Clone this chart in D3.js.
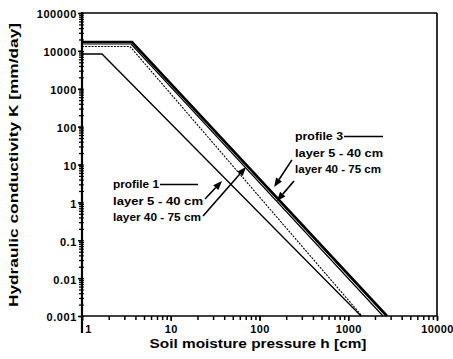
<!DOCTYPE html>
<html><head><meta charset="utf-8">
<script src="https://cdn.jsdelivr.net/npm/d3@7"></script>
<style>body{margin:0;background:#fff}svg{display:block}</style>
</head><body><svg id="c" width="453" height="359"></svg>
<script>
// ---- data ----
const yMajorTicks = [100000, 10000, 1000, 100, 10, 1, 0.1, 0.01, 0.001];
const yTickLabels = ["100000", "10000", "1000", "100", "10", "1", "0.1", "0.01", "0.001"];
const xMajorTicks = [1, 10, 100, 1000, 10000];
const xTickLabels = ["1", "10", "100", "1000", "10000"];
// curves: [h (cm), K (mm/day)]
const profile3Layer1 = [[1, 17100], [3.66, 17100], [2730, 0.001]];
const profile3Layer2 = [[1, 15200], [3.57, 15200], [2465, 0.001]];
const profile1Layer2 = [[1, 13060], [3.47, 13060], [1430, 0.001]];
const profile1Layer1 = [[1, 8260], [1.68, 8260], [1393, 0.001]];
// annotation arrows [tail, tip] in data units
const arrowP1a = [[24.3, 1.23], [37.8, 3.66]];
const arrowP1b = [[23.1, 0.436], [70.5, 8.6]];
const arrowP3a = [[232, 13.2], [146, 2.55]];
const arrowP3b = [[245, 3.66], [157, 1.09]];
const legend1 = ["profile 1", "layer  5 - 40 cm", "layer 40 - 75 cm"];
const legend3 = ["profile 3", "layer  5 - 40 cm", "layer 40 - 75 cm"];

const svg = d3.select("#c");
const L = 82, R = 437, T = 13, B = 316;
const x = d3.scaleLog().domain([1, 10000]).range([L, R]);
const y = d3.scaleLog().domain([0.001, 100000]).range([B, T]);
const font = "'Liberation Sans', Arial, Helvetica, sans-serif";

// frame
svg.append("line").attr("x1", L).attr("x2", R).attr("y1", T).attr("y2", T).attr("stroke", "#000").attr("stroke-width", 1.6);
svg.append("line").attr("x1", R).attr("x2", R).attr("y1", T).attr("y2", B).attr("stroke", "#000").attr("stroke-width", 1.6);
svg.append("line").attr("x1", L).attr("x2", R).attr("y1", B).attr("y2", B).attr("stroke", "#000").attr("stroke-width", 1.6);
svg.append("line").attr("x1", L).attr("x2", L).attr("y1", T - 1).attr("y2", 333).attr("stroke", "#000").attr("stroke-width", 2.2);

// y axis ticks
const yAll = y.ticks();
const gy = svg.append("g").attr("transform", `translate(${L},0)`)
  .call(d3.axisLeft(y).tickValues(yAll).tickSize(3).tickFormat(""));
gy.select(".domain").remove();
gy.selectAll("line").attr("stroke-width", 1.3);
const gy2 = svg.append("g").attr("transform", `translate(${L},0)`)
  .call(d3.axisRight(y).tickValues(yAll).tickSize(2).tickFormat(""));
gy2.select(".domain").remove();
const gyl = svg.append("g").attr("transform", `translate(${L},0)`)
  .call(d3.axisLeft(y).tickValues(yMajorTicks).tickSize(4).tickPadding(1)
    .tickFormat((d, i) => yTickLabels[i]));
gyl.select(".domain").remove();
gyl.selectAll("line").attr("stroke-width", 1.5);
gyl.selectAll("text").attr("font-family", font).attr("font-weight", "bold")
  .attr("font-size", 11).attr("letter-spacing", "0.6px").attr("dy", "0.45em");

// x axis ticks
const xAll = x.ticks();
const gx = svg.append("g").attr("transform", `translate(0,${B})`)
  .call(d3.axisBottom(x).tickValues(xAll).tickSize(4).tickFormat(""));
gx.select(".domain").remove();
gx.selectAll("line").attr("stroke-width", 1.5);
const gxl = svg.append("g").attr("transform", `translate(0,${B})`)
  .call(d3.axisBottom(x).tickValues(xMajorTicks).tickSize(5).tickPadding(4)
    .tickFormat((d, i) => xTickLabels[i]));
gxl.select(".domain").remove();
gxl.selectAll("line").attr("stroke-width", 1.5);
gxl.selectAll("text").attr("font-family", font).attr("font-weight", "bold")
  .attr("font-size", 11).attr("letter-spacing", "0.4px");
gxl.selectAll(".tick").filter((d) => d === 1).select("text").attr("dx", 6);

// curves
const line = d3.line().x(d => x(d[0])).y(d => y(d[1]));
const curves = [
  { data: profile1Layer1, w: 1.3, dash: null },
  { data: profile1Layer2, w: 1.1, dash: "2,1.2" },
  { data: profile3Layer2, w: 1.2, dash: null },
  { data: profile3Layer1, w: 2.6, dash: null }
];
svg.append("g").selectAll("path").data(curves).join("path")
  .attr("d", d => line(d.data)).attr("fill", "none").attr("stroke", "#000")
  .attr("stroke-width", d => d.w).attr("stroke-dasharray", d => d.dash)
  .attr("stroke-linejoin", "miter");

// arrows
function arrow(a) {
  const x1 = x(a[0][0]), y1 = y(a[0][1]), x2 = x(a[1][0]), y2 = y(a[1][1]);
  const ang = Math.atan2(y2 - y1, x2 - x1);
  const hl = 9, hw = 3.5;
  const bx = x2 - hl * Math.cos(ang), by = y2 - hl * Math.sin(ang);
  svg.append("line").attr("x1", x1).attr("y1", y1).attr("x2", bx).attr("y2", by)
    .attr("stroke", "#000").attr("stroke-width", 1.6);
  const px = -Math.sin(ang) * hw, py = Math.cos(ang) * hw;
  svg.append("path").attr("d", `M${x2},${y2}L${bx + px},${by + py}L${bx - px},${by - py}Z`).attr("fill", "#000");
}
[arrowP1a, arrowP1b, arrowP3a, arrowP3b].forEach(arrow);

// legends
function legend(lines, x0, y0, widths, lineEnd) {
  lines.forEach((t, i) => {
    svg.append("text").attr("x", x0).attr("y", y0 + i * 16.5).attr("font-family", font)
      .attr("font-weight", "bold").attr("font-size", 10.5).attr("textLength", widths[i])
      .attr("lengthAdjust", "spacingAndGlyphs").text(t);
  });
  svg.append("line").attr("x1", x0 + widths[0] + 1).attr("x2", lineEnd)
    .attr("y1", y0 - 3.5).attr("y2", y0 - 3.5).attr("stroke", "#000").attr("stroke-width", 1.3);
}
legend(legend1, 113, 188, [46, 90, 88], 198);
legend(legend3, 295, 140, [48, 88, 86], 383);

// titles
svg.append("text").attr("x", 258).attr("y", 348).attr("text-anchor", "middle")
  .attr("font-family", font).attr("font-weight", "bold").attr("font-size", 13)
  .attr("textLength", 217).attr("lengthAdjust", "spacingAndGlyphs")
  .text("Soil moisture pressure h  [cm]");
svg.append("text").attr("transform", "translate(18,165) rotate(-90)").attr("text-anchor", "middle")
  .attr("font-family", font).attr("font-weight", "bold").attr("font-size", 13)
  .attr("textLength", 284).attr("lengthAdjust", "spacingAndGlyphs")
  .text("Hydraulic conductivity K  [mm/day]");
</script></body></html>
